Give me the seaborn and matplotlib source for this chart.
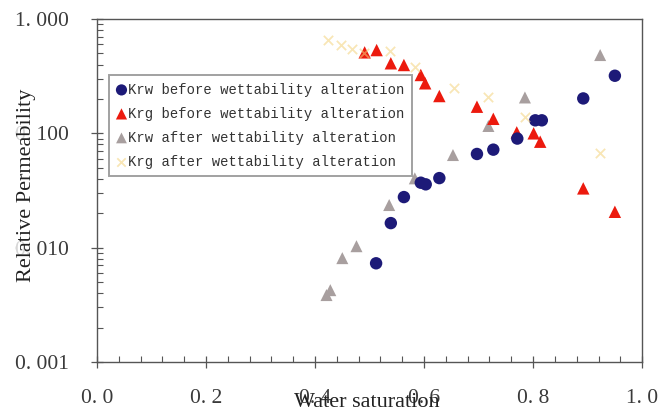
import numpy as np
import pandas as pd
import matplotlib
matplotlib.use("Agg")
import matplotlib.pyplot as plt
from matplotlib.ticker import FixedLocator, MultipleLocator, LogLocator, NullFormatter
import seaborn as sns

# ---- data ----
krw_before_sw = [0.512, 0.539, 0.563, 0.594, 0.603, 0.628, 0.697, 0.727, 0.771, 0.804, 0.816, 0.892, 0.950]
krw_before_kr = [0.0073, 0.0164, 0.0277, 0.037, 0.0358, 0.0406, 0.066, 0.072, 0.090, 0.130, 0.130, 0.202, 0.319]

krg_before_sw = [0.491, 0.513, 0.539, 0.563, 0.594, 0.602, 0.628, 0.697, 0.727, 0.770, 0.801, 0.813, 0.892, 0.950]
krg_before_kr = [0.511, 0.535, 0.410, 0.396, 0.324, 0.274, 0.212, 0.171, 0.134, 0.102, 0.100, 0.0845, 0.033, 0.0206]

krw_after_sw = [0.421, 0.428, 0.450, 0.476, 0.536, 0.583, 0.653, 0.718, 0.785, 0.923]
krw_after_kr = [0.00385, 0.00425, 0.0081, 0.0103, 0.0236, 0.0404, 0.0646, 0.116, 0.206, 0.484]

krg_after_sw = [0.424, 0.447, 0.468, 0.490, 0.538, 0.583, 0.654, 0.718, 0.785, 0.923]
krg_after_kr = [0.65, 0.59, 0.55, 0.50, 0.52, 0.38, 0.25, 0.21, 0.14, 0.067]

series_names = ["Krw before wettability alteration",
                "Krg before wettability alteration",
                "Krw after wettability alteration",
                "Krg after wettability alteration"]

x_ticks = [0.0, 0.2, 0.4, 0.6, 0.8, 1.0]
x_tick_labels = ["0. 0", "0. 2", "0. 4", "0. 6", "0. 8", "1. 0"]
y_ticks = [0.001, 0.01, 0.1, 1.0]
y_tick_labels = ["0. 001", "0. 010", "0. 100", "1. 000"]

sns.set_style("white")
plt.rcParams["font.family"] = ["Liberation Serif", "DejaVu Serif"]

fig = plt.figure(figsize=(6.62, 4.18), dpi=100)
ax = fig.add_axes([0.1465, 0.134, 0.8235, 0.8205])

sns.scatterplot(x=krw_before_sw, y=krw_before_kr, ax=ax, marker="o", s=80,
                color="#1d1a78", edgecolor="none", label=series_names[0], zorder=4)
sns.scatterplot(x=krg_before_sw, y=krg_before_kr, ax=ax, marker="^", s=80,
                color="#ec1a0e", edgecolor="none", label=series_names[1], zorder=3)
sns.scatterplot(x=krw_after_sw, y=krw_after_kr, ax=ax, marker="^", s=75,
                color="#a89f9f", edgecolor="none", label=series_names[2], zorder=2)
sns.scatterplot(x=krg_after_sw, y=krg_after_kr, ax=ax, marker="x", s=45,
                color="#f3d27a", linewidth=1.3, alpha=0.55, label=series_names[3], zorder=5)

ax.set_yscale("log")
ax.set_xlim(0, 1.0)
ax.set_ylim(0.001, 1.0)

ax.xaxis.set_major_locator(FixedLocator(x_ticks))
ax.set_xticklabels(x_tick_labels)
ax.xaxis.set_minor_locator(MultipleLocator(0.04))
ax.yaxis.set_major_locator(FixedLocator(y_ticks))
ax.set_yticklabels(y_tick_labels)
ax.yaxis.set_minor_locator(LogLocator(base=10, subs=np.arange(2, 10)))
ax.yaxis.set_minor_formatter(NullFormatter())

spine_c = "#555555"
for sp in ax.spines.values():
    sp.set_color(spine_c)
    sp.set_linewidth(1.0)
ax.tick_params(which="major", direction="inout", length=9, width=0.9, color=spine_c,
               labelsize=15.5, labelcolor="#3a3a3a")
ax.tick_params(axis="x", which="major", pad=15)
ax.tick_params(axis="y", which="major", pad=16)
ax.tick_params(which="minor", direction="in", length=4, width=0.8, color=spine_c)
ax.tick_params(axis="y", which="both", right=False, left=True)
ax.tick_params(axis="x", which="both", top=False, bottom=True)

ax.set_xlabel("Water saturation", fontsize=16, color="#222222")
ax.set_ylabel("Relative Permeability", fontsize=16, color="#222222",
              bbox=dict(boxstyle="square,pad=0.05", facecolor="white", edgecolor="none", alpha=0.8))
ax.xaxis.set_label_coords(0.495, -0.09)
ax.yaxis.set_label_coords(-0.112, 0.516)

leg = ax.legend(loc="upper left", bbox_to_anchor=(0.022, 0.837), borderaxespad=0,
                prop={"family": "Liberation Mono", "size": 10.0},
                handlelength=0.7, handletextpad=0.15, labelspacing=0.72,
                borderpad=0.55, fancybox=False, frameon=True, markerscale=0.9)
leg.get_frame().set_edgecolor("#8a8a8a")
leg.get_frame().set_linewidth(1.4)
for t in leg.get_texts():
    t.set_color("#333333")

fig.savefig("out.png", dpi=100, facecolor="white")
